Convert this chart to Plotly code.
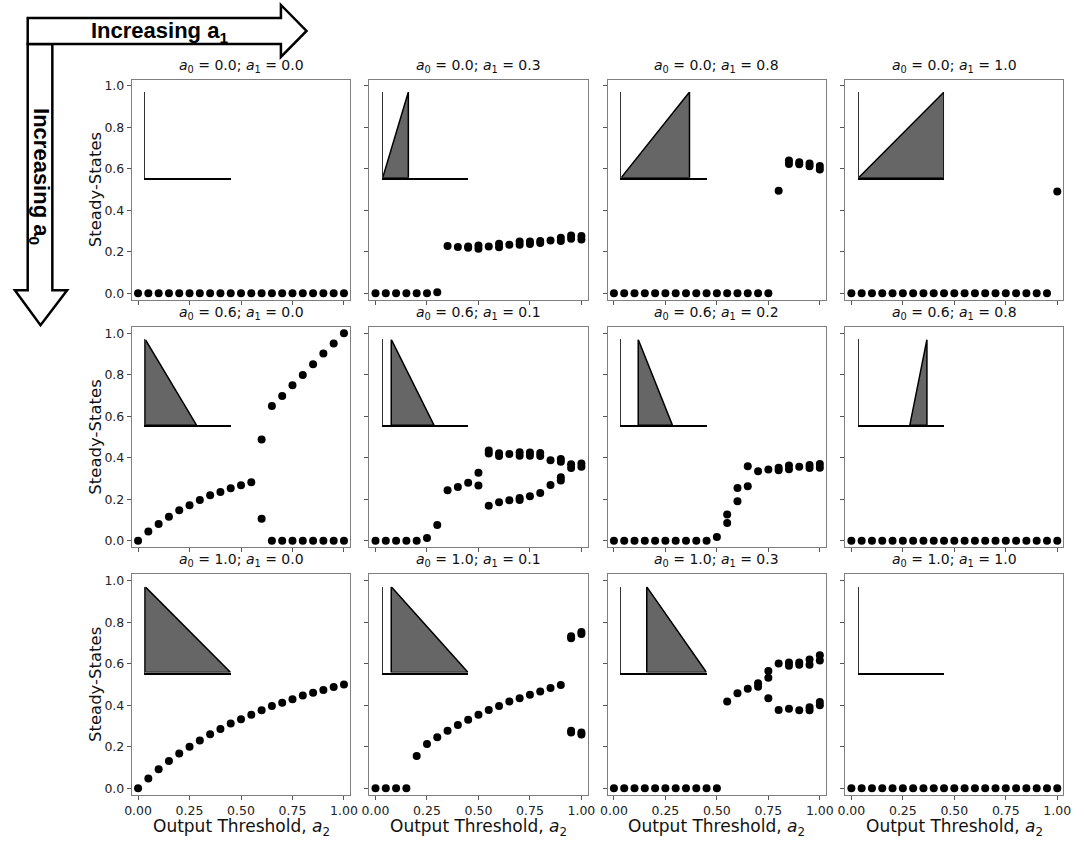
import plotly.graph_objects as go

W, H = 1084, 844

## values ##

thresholds = [0.00, 0.05, 0.10, 0.15, 0.20, 0.25, 0.30, 0.35, 0.40, 0.45, 0.50,
              0.55, 0.60, 0.65, 0.70, 0.75, 0.80, 0.85, 0.90, 0.95, 1.00]

a0_values = [0.0, 0.6, 1.0]
a1_values = [[0.0, 0.3, 0.8, 1.0],
             [0.0, 0.1, 0.2, 0.8],
             [0.0, 0.1, 0.3, 1.0]]

# row 1 (a0 = 0.0)
ss_x_00 = thresholds
ss_y_00 = [0.0, 0.0, 0.0, 0.0, 0.0, 0.0, 0.0, 0.0, 0.0, 0.0, 0.0,
           0.0, 0.0, 0.0, 0.0, 0.0, 0.0, 0.0, 0.0, 0.0, 0.0]

ss_x_01 = [0.00, 0.05, 0.10, 0.15, 0.20, 0.25, 0.30, 0.35, 0.40, 0.45, 0.45, 0.50, 0.50,
           0.55, 0.60, 0.60, 0.65, 0.70, 0.70, 0.75, 0.75, 0.80, 0.80, 0.85, 0.90, 0.90,
           0.95, 0.95, 1.00, 1.00]
ss_y_01 = [0.0, 0.0, 0.0, 0.0, 0.0, 0.0, 0.005, 0.228, 0.223, 0.220, 0.226, 0.215, 0.230,
           0.225, 0.222, 0.239, 0.234, 0.234, 0.250, 0.238, 0.250, 0.242, 0.252, 0.255, 0.252, 0.268,
           0.263, 0.279, 0.259, 0.276]

ss_x_02 = [0.00, 0.05, 0.10, 0.15, 0.20, 0.25, 0.30, 0.35, 0.40, 0.45, 0.50, 0.55, 0.60,
           0.65, 0.70, 0.75, 0.80, 0.85, 0.85, 0.90, 0.90, 0.95, 0.95, 1.00, 1.00]
ss_y_02 = [0.0, 0.0, 0.0, 0.0, 0.0, 0.0, 0.0, 0.0, 0.0, 0.0, 0.0, 0.0, 0.0,
           0.0, 0.0, 0.0, 0.494, 0.623, 0.640, 0.622, 0.632, 0.612, 0.625, 0.597, 0.613]

ss_x_03 = thresholds
ss_y_03 = [0.0, 0.0, 0.0, 0.0, 0.0, 0.0, 0.0, 0.0, 0.0, 0.0, 0.0,
           0.0, 0.0, 0.0, 0.0, 0.0, 0.0, 0.0, 0.0, 0.0, 0.49]

# row 2 (a0 = 0.6)
ss_x_10 = [0.00, 0.05, 0.10, 0.15, 0.20, 0.25, 0.30, 0.35, 0.40, 0.45, 0.50, 0.55,
           0.60, 0.60, 0.65, 0.65, 0.70, 0.70, 0.75, 0.75, 0.80, 0.80, 0.85, 0.85,
           0.90, 0.90, 0.95, 0.95, 1.00, 1.00]
ss_y_10 = [0.0, 0.045, 0.080, 0.116, 0.147, 0.171, 0.196, 0.219, 0.235, 0.253, 0.267, 0.282,
           0.488, 0.106, 0.649, 0.0, 0.697, 0.0, 0.749, 0.0, 0.799, 0.0, 0.850, 0.0,
           0.902, 0.0, 0.950, 0.0, 1.000, 0.0]

ss_x_11 = [0.00, 0.05, 0.10, 0.15, 0.20, 0.25, 0.30, 0.35, 0.40, 0.45,
           0.50, 0.50, 0.55, 0.55, 0.55, 0.60, 0.60, 0.60, 0.65, 0.65,
           0.70, 0.70, 0.70, 0.70, 0.75, 0.75, 0.75, 0.80, 0.80, 0.80,
           0.85, 0.85, 0.90, 0.90, 0.90, 0.90, 0.95, 0.95, 1.00, 1.00]
ss_y_11 = [0.0, 0.0, 0.0, 0.0, 0.0, 0.013, 0.076, 0.243, 0.259, 0.279,
           0.327, 0.266, 0.435, 0.420, 0.169, 0.422, 0.408, 0.185, 0.418, 0.195,
           0.426, 0.410, 0.206, 0.196, 0.425, 0.410, 0.214, 0.423, 0.408, 0.230,
           0.388, 0.269, 0.394, 0.380, 0.306, 0.290, 0.368, 0.350, 0.372, 0.357]

ss_x_12 = [0.00, 0.05, 0.10, 0.15, 0.20, 0.25, 0.30, 0.35, 0.40, 0.45, 0.50,
           0.55, 0.55, 0.60, 0.60, 0.65, 0.65, 0.70, 0.75, 0.80, 0.80,
           0.85, 0.85, 0.90, 0.95, 0.95, 1.00, 1.00]
ss_y_12 = [0.0, 0.0, 0.0, 0.0, 0.0, 0.0, 0.0, 0.0, 0.0, 0.0, 0.018,
           0.085, 0.126, 0.254, 0.190, 0.359, 0.262, 0.335, 0.343, 0.340, 0.352,
           0.345, 0.362, 0.356, 0.350, 0.365, 0.352, 0.370]

ss_x_13 = thresholds
ss_y_13 = [0.0, 0.0, 0.0, 0.0, 0.0, 0.0, 0.0, 0.0, 0.0, 0.0, 0.0,
           0.0, 0.0, 0.0, 0.0, 0.0, 0.0, 0.0, 0.0, 0.0, 0.0]

# row 3 (a0 = 1.0)
ss_x_20 = thresholds
ss_y_20 = [0.0, 0.046, 0.091, 0.131, 0.167, 0.200, 0.229, 0.260, 0.285, 0.311, 0.332,
           0.354, 0.375, 0.396, 0.412, 0.428, 0.446, 0.460, 0.473, 0.487, 0.500]

ss_x_21 = [0.00, 0.05, 0.10, 0.15, 0.20, 0.25, 0.30, 0.35, 0.40, 0.45, 0.50, 0.55,
           0.60, 0.65, 0.70, 0.75, 0.80, 0.85, 0.90,
           0.95, 0.95, 0.95, 0.95, 1.00, 1.00, 1.00, 1.00]
ss_y_21 = [0.0, 0.0, 0.0, 0.0, 0.155, 0.213, 0.245, 0.276, 0.304, 0.330, 0.354, 0.377,
           0.396, 0.417, 0.433, 0.450, 0.466, 0.482, 0.497,
           0.732, 0.722, 0.276, 0.268, 0.753, 0.743, 0.268, 0.258]

ss_x_22 = [0.00, 0.05, 0.10, 0.15, 0.20, 0.25, 0.30, 0.35, 0.40, 0.45, 0.50,
           0.55, 0.60, 0.65, 0.70, 0.70, 0.75, 0.75, 0.75, 0.80, 0.80,
           0.85, 0.85, 0.85, 0.90, 0.90, 0.90, 0.95, 0.95, 0.95, 0.95,
           1.00, 1.00, 1.00, 1.00]
ss_y_22 = [0.0, 0.0, 0.0, 0.0, 0.0, 0.0, 0.0, 0.0, 0.0, 0.0, 0.0,
           0.417, 0.457, 0.479, 0.488, 0.506, 0.532, 0.564, 0.433, 0.601, 0.377,
           0.590, 0.605, 0.383, 0.595, 0.605, 0.375, 0.595, 0.620, 0.375, 0.390,
           0.615, 0.640, 0.400, 0.415]

ss_x_23 = thresholds
ss_y_23 = [0.0, 0.0, 0.0, 0.0, 0.0, 0.0, 0.0, 0.0, 0.0, 0.0, 0.0,
           0.0, 0.0, 0.0, 0.0, 0.0, 0.0, 0.0, 0.0, 0.0, 0.0]

steady_states = [[(ss_x_00, ss_y_00), (ss_x_01, ss_y_01), (ss_x_02, ss_y_02), (ss_x_03, ss_y_03)],
                 [(ss_x_10, ss_y_10), (ss_x_11, ss_y_11), (ss_x_12, ss_y_12), (ss_x_13, ss_y_13)],
                 [(ss_x_20, ss_y_20), (ss_x_21, ss_y_21), (ss_x_22, ss_y_22), (ss_x_23, ss_y_23)]]

## layout: pixel positions of data 0 in each column / row ##
col_x0 = [132, 373, 615, 856]
row_y0 = [293, 541, 789]
SPAN_X, SPAN_Y = 209, 208
X_RANGE = [-0.03, 1.03]
Y_RANGE = [-0.032, 1.03]
INSET_X = [0.035, 0.45]
INSET_Y = [0.557, 0.97]

FONT = "DejaVu Sans"
FRAME = "#7f7f7f"


def px(x):
    return x / W


def py(y):
    return 1 - y / H


def ax_name(kind, n):
    return kind + ("axis" if n == 1 else "axis%d" % n)


def ref(kind, n):
    return kind + ("" if n == 1 else str(n))


fig = go.Figure()
layout = {}
annotations = []

for r in range(3):
    for c in range(4):
        n = r * 4 + c + 1
        m = 12 + n
        a0 = a0_values[r]
        a1 = a1_values[r][c]
        xs, ys = steady_states[r][c]

        # main panel
        layout[ax_name("x", n)] = dict(
            domain=[px(col_x0[c] + X_RANGE[0] * SPAN_X), px(col_x0[c] + X_RANGE[1] * SPAN_X)],
            range=X_RANGE, anchor=ref("y", n),
            showline=True, mirror=True, linecolor=FRAME, linewidth=1.2,
            ticks="outside", ticklen=4, tickcolor="#555555", tickwidth=1,
            tickvals=[0, 0.25, 0.5, 0.75, 1.0], tickformat=".2f",
            showticklabels=(r == 2), showgrid=False, zeroline=False,
            tickfont=dict(family=FONT, size=12.5, color="#222222"))
        layout[ax_name("y", n)] = dict(
            domain=[py(row_y0[r] - Y_RANGE[0] * SPAN_Y), py(row_y0[r] - Y_RANGE[1] * SPAN_Y)],
            range=Y_RANGE, anchor=ref("x", n),
            showline=True, mirror=True, linecolor=FRAME, linewidth=1.2,
            ticks="outside", ticklen=4, tickcolor="#555555", tickwidth=1,
            tickvals=[0, 0.2, 0.4, 0.6, 0.8, 1.0], tickformat=".1f",
            showticklabels=(c == 0), showgrid=False, zeroline=False,
            tickfont=dict(family=FONT, size=12.5, color="#222222"))

        fig.add_trace(go.Scatter(x=xs, y=ys, mode="markers",
                                 marker=dict(color="black", size=8),
                                 xaxis=ref("x", n), yaxis=ref("y", n),
                                 showlegend=False, hoverinfo="x+y"))

        # inset with the input-function shape
        layout[ax_name("x", m)] = dict(
            domain=[px(col_x0[c] + INSET_X[0] * SPAN_X), px(col_x0[c] + INSET_X[1] * SPAN_X)],
            range=[0, 1], anchor=ref("y", m),
            showline=True, linecolor="black", linewidth=1.6,
            showticklabels=False, ticks="", showgrid=False, zeroline=False)
        layout[ax_name("y", m)] = dict(
            domain=[py(row_y0[r] - INSET_Y[0] * SPAN_Y), py(row_y0[r] - INSET_Y[1] * SPAN_Y)],
            range=[0, 1], anchor=ref("x", m),
            showline=True, linecolor="#333333", linewidth=1,
            showticklabels=False, ticks="", showgrid=False, zeroline=False)

        # degenerate shape (a0 == a1) -> empty trace, keeps the inset axes drawn
        tri_x = [a0, a1, a1, a0] if a0 != a1 else []
        tri_y = [0, 1, 0, 0] if a0 != a1 else []
        fig.add_trace(go.Scatter(x=tri_x, y=tri_y,
                                 mode="lines", fill="toself", fillcolor="#666666",
                                 line=dict(color="black", width=1.5),
                                 xaxis=ref("x", m), yaxis=ref("y", m),
                                 showlegend=False, hoverinfo="skip"))

        # panel title
        top = row_y0[r] - Y_RANGE[1] * SPAN_Y
        annotations.append(dict(
            text="<i>a</i><sub>0</sub> = %.1f; <i>a</i><sub>1</sub> = %.1f" % (a0, a1),
            x=px(col_x0[c] + 0.5 * SPAN_X), y=py(top - 3),
            xref="paper", yref="paper", xanchor="center", yanchor="bottom",
            showarrow=False, font=dict(family=FONT, size=14, color="#111111")))

        if c == 0:
            annotations.append(dict(
                text="Steady-States", textangle=-90,
                x=px(89), y=py(row_y0[r] - 0.5 * SPAN_Y),
                xref="paper", yref="paper", xanchor="center", yanchor="middle",
                showarrow=False, font=dict(family=FONT, size=16.5, color="#111111")))
        if r == 2:
            annotations.append(dict(
                text="Output Threshold, <i>a</i><sub>2</sub>",
                x=px(col_x0[c] + 0.5 * SPAN_X), y=py(828),
                xref="paper", yref="paper", xanchor="center", yanchor="middle",
                showarrow=False, font=dict(family=FONT, size=17, color="#111111")))

# big arrows at the top-left corner
h_arrow = [(20, 17), (277, 17), (277, 4), (303, 30), (277, 56), (277, 43), (20, 43)]
v_arrow = [(20, 43), (45, 43), (45, 290), (60, 290), (33, 325), (7, 290), (20, 290)]


def arrow_path(pts):
    return "M " + " L ".join("%.5f,%.5f" % (px(a), py(b)) for a, b in pts) + " Z"


shapes = [dict(type="path", path=arrow_path(v_arrow), xref="paper", yref="paper",
               fillcolor="white", line=dict(color="black", width=2.5)),
          dict(type="path", path=arrow_path(h_arrow), xref="paper", yref="paper",
               fillcolor="white", line=dict(color="black", width=2.5))]

annotations.append(dict(text="<b>Increasing a<sub>1</sub></b>", x=px(154), y=py(31),
                        xref="paper", yref="paper", xanchor="center", yanchor="middle",
                        showarrow=False,
                        font=dict(family="Liberation Sans", size=22, color="black")))
annotations.append(dict(text="<b>Increasing a<sub>0</sub></b>", textangle=90,
                        x=px(33), y=py(176),
                        xref="paper", yref="paper", xanchor="center", yanchor="middle",
                        showarrow=False,
                        font=dict(family="Liberation Sans", size=22, color="black")))

fig.update_layout(width=W, height=H, margin=dict(l=0, r=0, t=0, b=0),
                  paper_bgcolor="white", plot_bgcolor="rgba(0,0,0,0)",
                  showlegend=False, shapes=shapes, annotations=annotations,
                  font=dict(family=FONT), **layout)

# drop the default page margin so the figure sits at the window's corner
fig.write_html("out.html", config={"displayModeBar": False},
               post_script="document.body.style.margin='0';document.body.style.overflow='hidden';")
